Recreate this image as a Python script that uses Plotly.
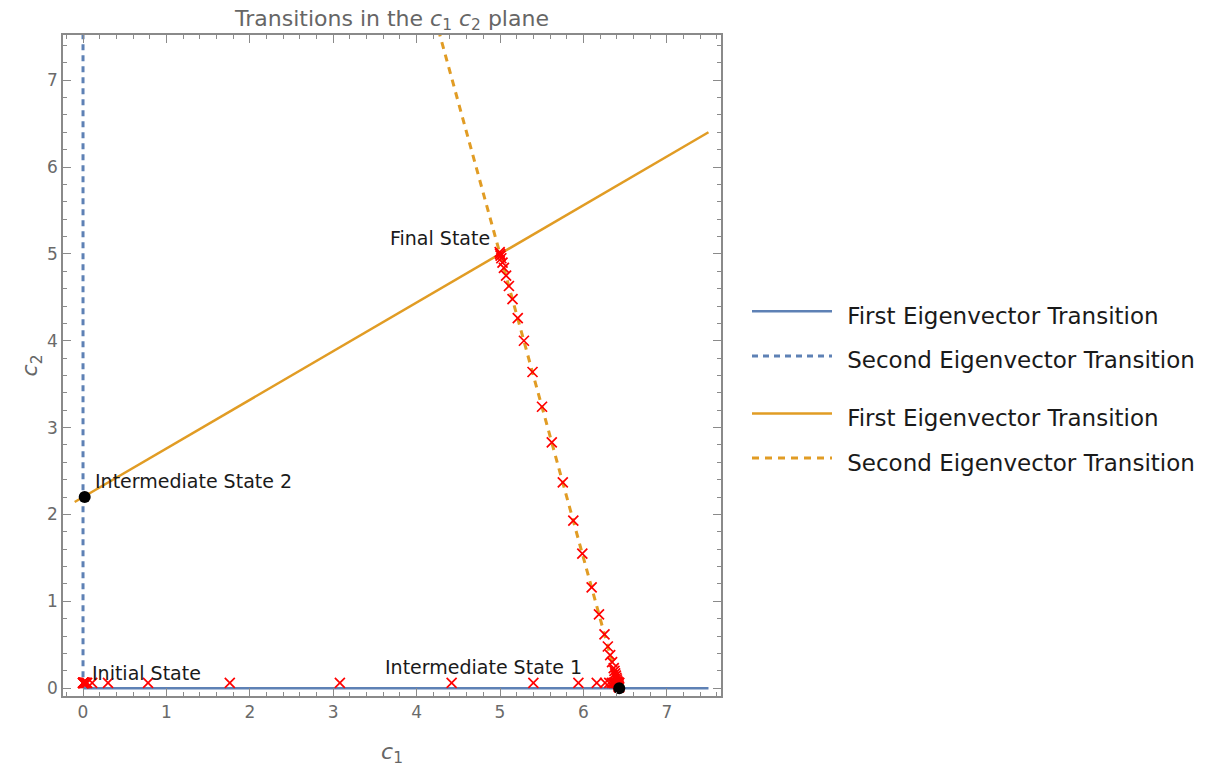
import plotly.graph_objects as go

# ---------------- data ----------------
BLUE = "#5e81b5"
ORANGE = "#e19c24"

blue_solid_x = [0.0, 7.5]
blue_solid_y = [0.0, 0.0]
blue_dash_x = [0.0, 0.0]
blue_dash_y = [0.0, 7.6]
orange_solid_x = [-0.1, 7.5]
orange_solid_y = [2.144, 6.4]
orange_dash_x = [6.43, 4.256]
orange_dash_y = [0.0, 7.6]

# sampled trajectory (red x markers)
phase1_x = [0.0, 0.001, 0.002, 0.004, 0.006, 0.009, 0.013, 0.018, 0.025, 0.035, 0.05,
            0.11, 0.30, 0.78, 1.76, 3.08, 4.42, 5.40, 5.94, 6.16, 6.26, 6.31, 6.34,
            6.36, 6.38, 6.39, 6.40, 6.41, 6.415, 6.42, 6.425, 6.43]
phase1_y = [0.06] * len(phase1_x)
phase2_x = [6.428, 6.426, 6.424, 6.42, 6.416, 6.412, 6.407, 6.402, 6.396, 6.389,
            6.381, 6.373, 6.364, 6.344, 6.321, 6.293, 6.253,
            6.187, 6.099, 5.987, 5.879, 5.753, 5.621, 5.504, 5.390, 5.287, 5.213,
            5.150, 5.107, 5.073, 5.047, 5.030, 5.016, 5.007, 5.001, 4.996]
phase2_y = [0.01, 0.015, 0.02, 0.035, 0.05, 0.065, 0.08, 0.10, 0.12, 0.145,
            0.17, 0.20, 0.23, 0.30, 0.38, 0.48, 0.62,
            0.85, 1.16, 1.55, 1.93, 2.37, 2.83, 3.24, 3.64, 4.00, 4.26,
            4.48, 4.63, 4.75, 4.84, 4.90, 4.95, 4.98, 5.00, 5.02]

state_pts_x = [0.02, 6.43]
state_pts_y = [2.2, 0.0]

label_text = ["Final State", "Intermediate State 2", "Initial State", "Intermediate State 1"]
label_x = [4.90, 0.12, 0.08, 3.60]
label_y = [5.18, 2.38, 0.17, 0.24]
label_anchor = ["right", "left", "left", "left"]

legend_names = ["First Eigenvector Transition", "Second Eigenvector Transition"]

x_ticks = [0, 1, 2, 3, 4, 5, 6, 7]
y_ticks = [0, 1, 2, 3, 4, 5, 6, 7]

# ---------------- figure ----------------
FONT = "DejaVu Sans"
LEGFS = 23


def leg(name):
    return (f'<span style="font-size:16px">\u00a0\u00a0</span>'
            f'<span style="font-size:{LEGFS}px">{name}</span>')


fig = go.Figure()
fig.add_trace(go.Scatter(x=blue_solid_x, y=blue_solid_y, mode="lines",
                         line=dict(color=BLUE, width=2.5), name=leg(legend_names[0]),
                         legendgroup="b"))
fig.add_trace(go.Scatter(x=blue_dash_x, y=blue_dash_y, mode="lines",
                         line=dict(color=BLUE, width=3, dash="6px,5px"),
                         name=leg(legend_names[1]), legendgroup="b"))
fig.add_trace(go.Scatter(x=orange_solid_x, y=orange_solid_y, mode="lines",
                         line=dict(color=ORANGE, width=2.5), name=leg(legend_names[0]),
                         legendgroup="o"))
fig.add_trace(go.Scatter(x=orange_dash_x, y=orange_dash_y, mode="lines",
                         line=dict(color=ORANGE, width=3, dash="7px,6px"),
                         name=leg(legend_names[1]), legendgroup="o"))
fig.add_trace(go.Scatter(x=phase1_x + phase2_x, y=phase1_y + phase2_y, mode="markers",
                         marker=dict(symbol="x-thin", size=10, color="red",
                                     line=dict(color="red", width=1.7)),
                         showlegend=False))
fig.add_trace(go.Scatter(x=state_pts_x, y=state_pts_y, mode="markers",
                         marker=dict(size=12, color="black"), showlegend=False))

for t, x, y, a in zip(label_text, label_x, label_y, label_anchor):
    fig.add_annotation(x=x, y=y, text=t, showarrow=False, xanchor=a, yanchor="middle",
                       font=dict(family=FONT, size=19, color="#1a1a1a"))

axis_common = dict(
    showline=True, linecolor="#8a8a8a", linewidth=1.5, mirror="ticks",
    ticks="inside", ticklen=8, tickwidth=1.2, tickcolor="#8a8a8a",
    showgrid=False, zeroline=False, automargin=False,
    tickfont=dict(family=FONT, size=17, color="#6a6a6a"),
    minor=dict(dtick=0.2, ticks="inside", ticklen=4, tickcolor="#8a8a8a", tickwidth=1),
)

fig.update_layout(
    width=1211, height=768,
    margin=dict(l=63, r=490, t=35, b=72),
    paper_bgcolor="white", plot_bgcolor="white",
    title=dict(text="Transitions in the <i>c</i><sub>1</sub> <i>c</i><sub>2</sub> plane",
               x=0.5, xref="paper", y=1 - 18 / 768, yref="container", yanchor="middle",
               xanchor="center", font=dict(family=FONT, size=22, color="#666666")),
    xaxis=dict(range=[-0.24, 7.65], tickvals=x_ticks, ticktext=[str(v) for v in x_ticks],
               title=dict(text="<i>c</i><sub>1</sub>", standoff=22,
                          font=dict(family=FONT, size=22, color="#666666")),
               **axis_common),
    yaxis=dict(range=[-0.09, 7.52], tickvals=y_ticks, ticktext=[str(v) for v in y_ticks],
               title=dict(text="<i>c</i><sub>2</sub>", standoff=3,
                          font=dict(family=FONT, size=22, color="#666666")),
               **axis_common),
    legend=dict(xref="container", yref="container", x=747 / 1211, xanchor="left",
                y=1 - 284 / 768, yanchor="top", itemwidth=80, tracegroupgap=13,
                traceorder="grouped", bgcolor="rgba(0,0,0,0)",
                font=dict(family=FONT, size=32, color="#1a1a1a")),
    showlegend=True,
)

fig.write_html("out.html")
